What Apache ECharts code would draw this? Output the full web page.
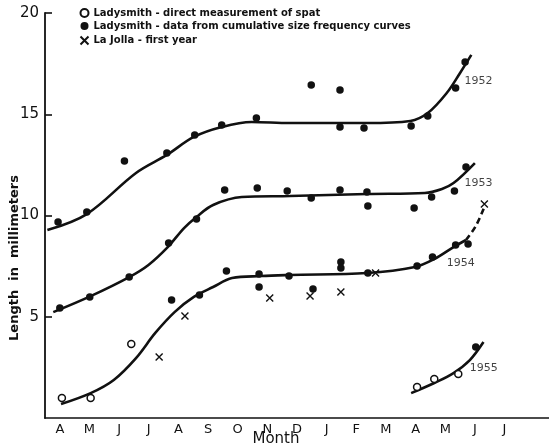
<!DOCTYPE html>
<html>
<head>
<meta charset="utf-8">
<script src="https://cdn.jsdelivr.net/npm/echarts@6/dist/echarts.min.js"></script>
<style>
html, body { margin: 0; padding: 0; background: #fff; }
#chart { width: 549px; height: 447px; }
</style>
</head>
<body>
<div id="chart"></div>
<script>
// month letters, April to July of the next year (last slot is the blank stub past the last tick)
let months = ['A', 'M', 'J', 'J', 'A', 'S', 'O', 'N', 'D', 'J', 'F', 'M', 'A', 'M', 'J', 'J', ''];
let yTicks = [0, 5, 10, 15, 20];

// x = months counted from the start of April, y = length in mm
let spatPoints = [[0.57, 0.99], [1.54, 0.99], [2.91, 3.65], [12.55, 1.53], [13.13, 1.93], [13.94, 2.17]];

let curvePoints = [
    // 1952
    [0.44, 9.68], [1.41, 10.17], [2.68, 12.69], [4.11, 13.09], [5.05, 13.98], [5.96, 14.47], [7.13, 14.81],
    [8.98, 16.44], [9.95, 16.20], [9.95, 14.37], [10.76, 14.32], [12.35, 14.42], [12.91, 14.91], [13.85, 16.30], [14.17, 17.58],
    // 1953
    [0.50, 5.43], [1.51, 5.98], [2.84, 6.96], [4.17, 8.64], [5.11, 9.83], [6.06, 11.26], [7.16, 11.36], [8.17, 11.21],
    [8.98, 10.86], [9.95, 11.26], [10.86, 11.16], [10.89, 10.47], [12.45, 10.37], [13.04, 10.91], [13.81, 11.21], [14.20, 12.40],
    // 1954
    [4.27, 5.83], [5.21, 6.07], [6.12, 7.26], [7.22, 7.11], [7.22, 6.47], [8.23, 7.01], [9.04, 6.37], [9.98, 7.70],
    [9.98, 7.41], [10.89, 7.16], [12.55, 7.51], [13.07, 7.95], [13.85, 8.54], [14.27, 8.59],
    // 1955
    [14.53, 3.51]
];

let laJollaPoints = [[3.85, 3.01], [4.72, 5.04], [7.58, 5.93], [8.94, 6.02], [9.98, 6.22], [11.15, 7.16], [14.82, 10.57]];

// hand drawn growth curves
let curve1952 = [[0.08, 9.28], [1.41, 10.07], [3.07, 12.10], [4.11, 12.99], [5.02, 13.88], [5.96, 14.37], [6.97, 14.62],
    [8.26, 14.57], [10.86, 14.57], [12.32, 14.67], [12.91, 15.06], [13.55, 16.05], [14.0, 17.04], [14.38, 17.93]];
let curve1953 = [[0.28, 5.23], [1.54, 6.02], [2.84, 6.96], [3.49, 7.56], [4.14, 8.44], [4.69, 9.38], [5.11, 9.93], [5.67, 10.52],
    [6.64, 10.91], [8.26, 10.96], [10.86, 11.06], [12.81, 11.11], [13.39, 11.31], [13.78, 11.60], [14.50, 12.59]];
let curve1954 = [[0.54, 0.69], [1.54, 1.23], [2.32, 1.88], [3.07, 2.96], [3.72, 4.20], [4.37, 5.23], [5.02, 5.98], [5.67, 6.47],
    [6.31, 6.91], [7.29, 7.01], [8.26, 7.06], [10.86, 7.16], [12.48, 7.46], [13.13, 7.85], [13.78, 8.44], [14.20, 8.79]];
let curve1954Dashed = [[14.20, 8.79], [14.53, 9.48], [14.82, 10.42]];
let curve1955 = [[12.35, 1.23], [13.13, 1.73], [13.78, 2.22], [14.33, 2.86], [14.79, 3.75]];

let yearNames = ['1952', '1953', '1954', '1955'];
let yearSpots = [[14.15, 16.64], [14.15, 11.6], [13.55, 7.65], [14.33, 2.47]];

let ink = '#111';

function curveSeries(data, dashed) {
    return {
        type: 'line',
        xAxisIndex: 1,
        data: data,
        smooth: 0.35,
        showSymbol: false,
        silent: true,
        lineStyle: {
            color: ink,
            width: 2.6,
            type: dashed ? [6, 4] : 'solid'
        },
        z: 1
    };
}

let chart = echarts.init(document.getElementById('chart'));
chart.setOption({
    animation: false,
    backgroundColor: '#fff',
    textStyle: { fontFamily: 'DejaVu Sans', color: ink },
    grid: { left: 45, top: 13, right: -20, bottom: 29 },
    legend: {
        orient: 'vertical',
        left: 78,
        top: 8,
        padding: 0,
        itemGap: 3,
        itemWidth: 8,
        itemHeight: 8,
        data: ['Ladysmith - direct measurement of spat', 'Ladysmith - data from cumulative size frequency curves', 'La Jolla - first year'],
        textStyle: { fontSize: 10, fontWeight: 'bold', color: ink, fontFamily: 'DejaVu Sans' }
    },
    xAxis: [{
        type: 'category',
        data: months,
        boundaryGap: true,
        axisLine: { lineStyle: { color: ink, width: 1.6 } },
        axisTick: { inside: true, length: 8, lineStyle: { color: ink, width: 1.6 } },
        axisLabel: { fontSize: 13, color: ink, margin: 5, interval: 0 },
        splitLine: { show: false }
    }, {
        type: 'value',
        min: 0,
        max: 17,
        show: false
    }],
    yAxis: {
        type: 'value',
        min: yTicks[0],
        max: yTicks[yTicks.length - 1],
        interval: 5,
        axisLine: { show: true, lineStyle: { color: ink, width: 1.8 } },
        axisTick: { inside: true, length: 7, lineStyle: { color: ink, width: 1.6 } },
        axisLabel: { fontSize: 15, color: ink, margin: 6, showMinLabel: false },
        splitLine: { show: false }
    },
    graphic: [{
        type: 'text',
        x: 15,
        y: 258,
        rotation: Math.PI / 2,
        style: {
            text: 'Length  in  millimeters',
            font: 'bold 13px "DejaVu Sans"',
            fill: ink,
            textAlign: 'center',
            textVerticalAlign: 'middle'
        }
    }, {
        type: 'text',
        x: 276,
        y: 439,
        style: {
            text: 'Month',
            font: '15px "DejaVu Sans"',
            fill: ink,
            textAlign: 'center',
            textVerticalAlign: 'middle'
        }
    }],
    series: [
        curveSeries(curve1952),
        curveSeries(curve1953),
        curveSeries(curve1954),
        curveSeries(curve1954Dashed, true),
        curveSeries(curve1955),
        {
            name: 'Ladysmith - direct measurement of spat',
            type: 'scatter',
            xAxisIndex: 1,
            data: spatPoints,
            symbol: 'circle',
            symbolSize: 7,
            itemStyle: { color: '#fff', borderColor: ink, borderWidth: 1.5, opacity: 1 },
            z: 3
        },
        {
            name: 'Ladysmith - data from cumulative size frequency curves',
            type: 'scatter',
            xAxisIndex: 1,
            data: curvePoints,
            symbol: 'circle',
            symbolSize: 7.5,
            itemStyle: { color: ink, opacity: 1 },
            z: 3
        },
        {
            name: 'La Jolla - first year',
            type: 'scatter',
            xAxisIndex: 1,
            data: laJollaPoints,
            symbol: 'path://M0,0L10,10M10,0L0,10',
            symbolSize: 7,
            itemStyle: { color: 'none', borderColor: ink, borderWidth: 1.4, opacity: 1 },
            z: 3
        },
        {
            type: 'scatter',
            xAxisIndex: 1,
            silent: true,
            symbolSize: 0,
            data: yearNames.map(function (n, i) { return { name: n, value: yearSpots[i] }; }),
            label: {
                show: true,
                position: 'right',
                distance: 0,
                formatter: '{b}',
                fontSize: 11,
                color: ink,
                fontFamily: 'DejaVu Sans'
            }
        }
    ]
});
</script>
</body>
</html>
